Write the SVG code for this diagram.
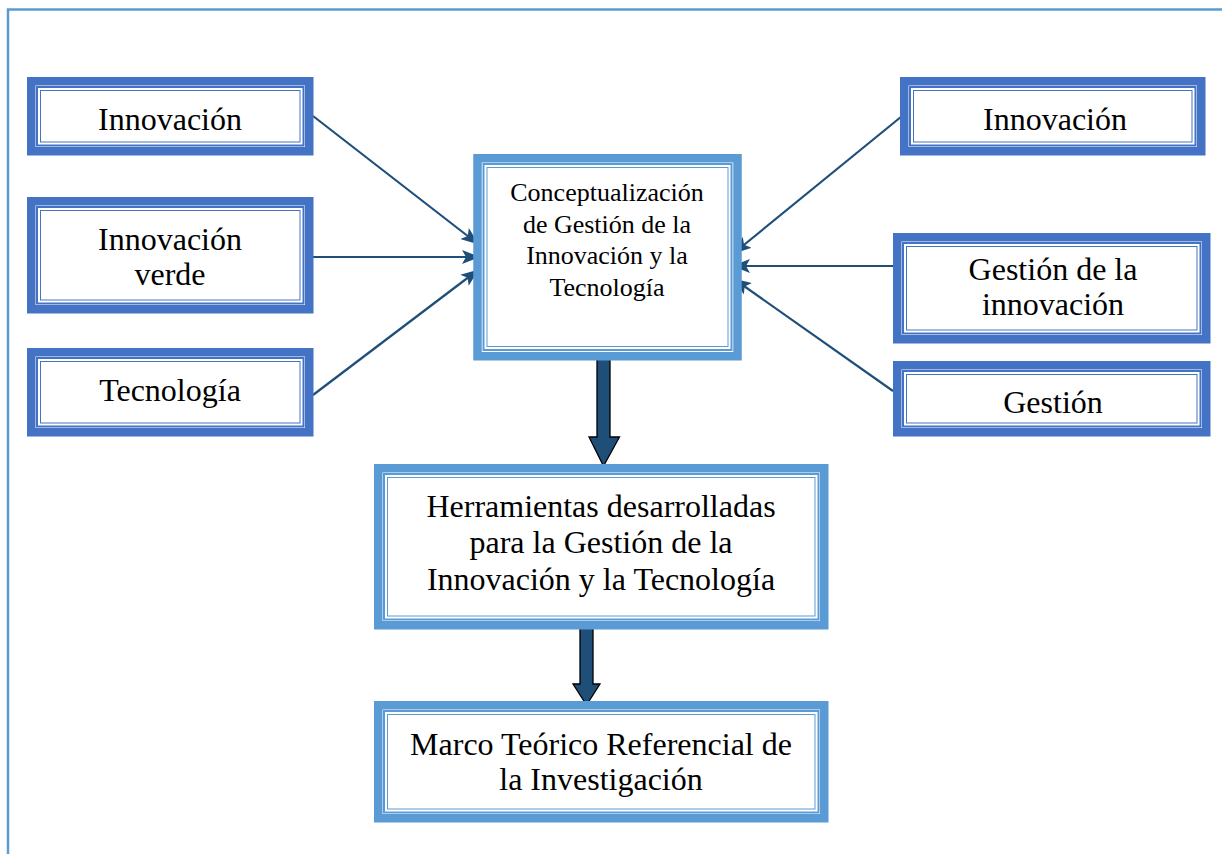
<svg xmlns="http://www.w3.org/2000/svg" width="1222" height="854" viewBox="0 0 1222 854">
<style>
.bg{fill:#fff}
.dk .o{fill:#fff;stroke:#4472c4;stroke-width:8.5}
.dk .i1{fill:none;stroke:#4472c4;stroke-width:2}
.dk .i2{fill:none;stroke:#4472c4;stroke-width:1}
.lt .o{fill:#fff;stroke:#5b9bd5;stroke-width:8.5}
.lt .i1{fill:none;stroke:#5b9bd5;stroke-width:2}
.lt .i2{fill:none;stroke:#5b9bd5;stroke-width:1}
text{fill:#000;text-anchor:middle}
.t28{font-size:32px}
.t21{font-size:26px}
.c line{stroke:#1f4e79;stroke-width:2.2}
.blk{fill:#1f4e79;stroke:#000;stroke-width:1.3;stroke-linejoin:miter}
</style>
<defs>
<marker id="ah2" viewBox="0 0 18 14" refX="17" refY="7" markerWidth="18" markerHeight="14" orient="auto" markerUnits="userSpaceOnUse">
<path d="M0,0 L18,7 L0,14 L4,7 z" fill="#1f4e79"/>
</marker>
</defs>
<rect class="bg" x="0" y="0" width="1222" height="854"/>
<path d="M8,854 V9.5 H1222" fill="none" stroke="#5b9bd5" stroke-width="2.5"/>

<g class="c">
<line x1="313" y1="116" x2="478" y2="244" marker-end="url(#ah2)"/>
<line x1="313" y1="257" x2="479" y2="257" marker-end="url(#ah2)"/>
<line x1="313" y1="395" x2="478" y2="270" marker-end="url(#ah2)"/>
<line x1="907" y1="112" x2="734" y2="253" marker-end="url(#ah2)"/>
<line x1="893" y1="266" x2="733" y2="266" marker-end="url(#ah2)"/>
<line x1="893" y1="391" x2="734" y2="279" marker-end="url(#ah2)"/>
<path class="blk" d="M597,354 H610 V437 H619.5 L603.5,466 L589,437 H597 Z"/>
<path class="blk" d="M580,622 H593 V684 H600 L586.5,705 L573,684 H580 Z"/>
</g>

<g font-family="'Liberation Serif', 'Times New Roman', 'DejaVu Serif', serif">
<g id="n-innov-l" class="dk">
<rect class="o" x="31.25" y="81.25" width="278" height="70"/>
<rect class="i1" x="37" y="87" width="266.5" height="58.5"/>
<rect class="i2" x="40.5" y="90.5" width="259.5" height="51.5"/>
<text class="t28" x="170" y="130">Innovación</text>
</g>
<g id="n-verde" class="dk">
<rect class="o" x="31.25" y="201.25" width="278" height="108"/>
<rect class="i1" x="37" y="207" width="266.5" height="96.5"/>
<rect class="i2" x="40.5" y="210.5" width="259.5" height="89.5"/>
<text class="t28" x="170" y="250">Innovación</text>
<text class="t28" x="170" y="285">verde</text>
</g>
<g id="n-tec" class="dk">
<rect class="o" x="31.25" y="352.25" width="278" height="80"/>
<rect class="i1" x="37" y="358" width="266.5" height="68.5"/>
<rect class="i2" x="40.5" y="361.5" width="259.5" height="61.5"/>
<text class="t28" x="170" y="401">Tecnología</text>
</g>
<g id="n-center" class="lt">
<rect class="o" x="477.5" y="158.25" width="260" height="198"/>
<rect class="i1" x="483.5" y="164" width="248" height="186"/>
<rect class="i2" x="487" y="167.5" width="241" height="179"/>
<text class="t21" x="607" y="201">Conceptualización</text>
<text class="t21" x="607" y="233">de Gestión de la</text>
<text class="t21" x="607" y="264">Innovación y la</text>
<text class="t21" x="607" y="296">Tecnología</text>
</g>
<g id="n-innov-r" class="dk">
<rect class="o" x="904.25" y="81.25" width="297" height="70"/>
<rect class="i1" x="910" y="87" width="285.5" height="58.5"/>
<rect class="i2" x="913.5" y="90.5" width="278.5" height="51.5"/>
<text class="t28" x="1055" y="130">Innovación</text>
</g>
<g id="n-gestinn" class="dk">
<rect class="o" x="897.25" y="237.25" width="309" height="102"/>
<rect class="i1" x="903" y="243" width="297.5" height="90.5"/>
<rect class="i2" x="906.5" y="246.5" width="290.5" height="83.5"/>
<text class="t28" x="1053" y="280">Gestión de la</text>
<text class="t28" x="1053" y="315">innovación</text>
</g>
<g id="n-gest" class="dk">
<rect class="o" x="897.25" y="365.25" width="309" height="67"/>
<rect class="i1" x="903" y="371" width="297.5" height="55.5"/>
<rect class="i2" x="906.5" y="374.5" width="290.5" height="48.5"/>
<text class="t28" x="1053" y="413">Gestión</text>
</g>
<g id="n-herr" class="lt">
<rect class="o" x="378.25" y="468.25" width="446" height="157"/>
<rect class="i1" x="384" y="474" width="434.5" height="145.5"/>
<rect class="i2" x="387.5" y="477.5" width="427.5" height="138.5"/>
<text class="t28" x="601" y="517">Herramientas desarrolladas</text>
<text class="t28" x="601" y="553">para la Gestión de la</text>
<text class="t28" x="601" y="590">Innovación y la Tecnología</text>
</g>
<g id="n-marco" class="lt">
<rect class="o" x="378.25" y="705.25" width="446" height="113"/>
<rect class="i1" x="384" y="711" width="434.5" height="101.5"/>
<rect class="i2" x="387.5" y="714.5" width="427.5" height="94.5"/>
<text class="t28" x="601" y="755">Marco Teórico Referencial de</text>
<text class="t28" x="601" y="790">la Investigación</text>
</g>
</g>
</svg>
